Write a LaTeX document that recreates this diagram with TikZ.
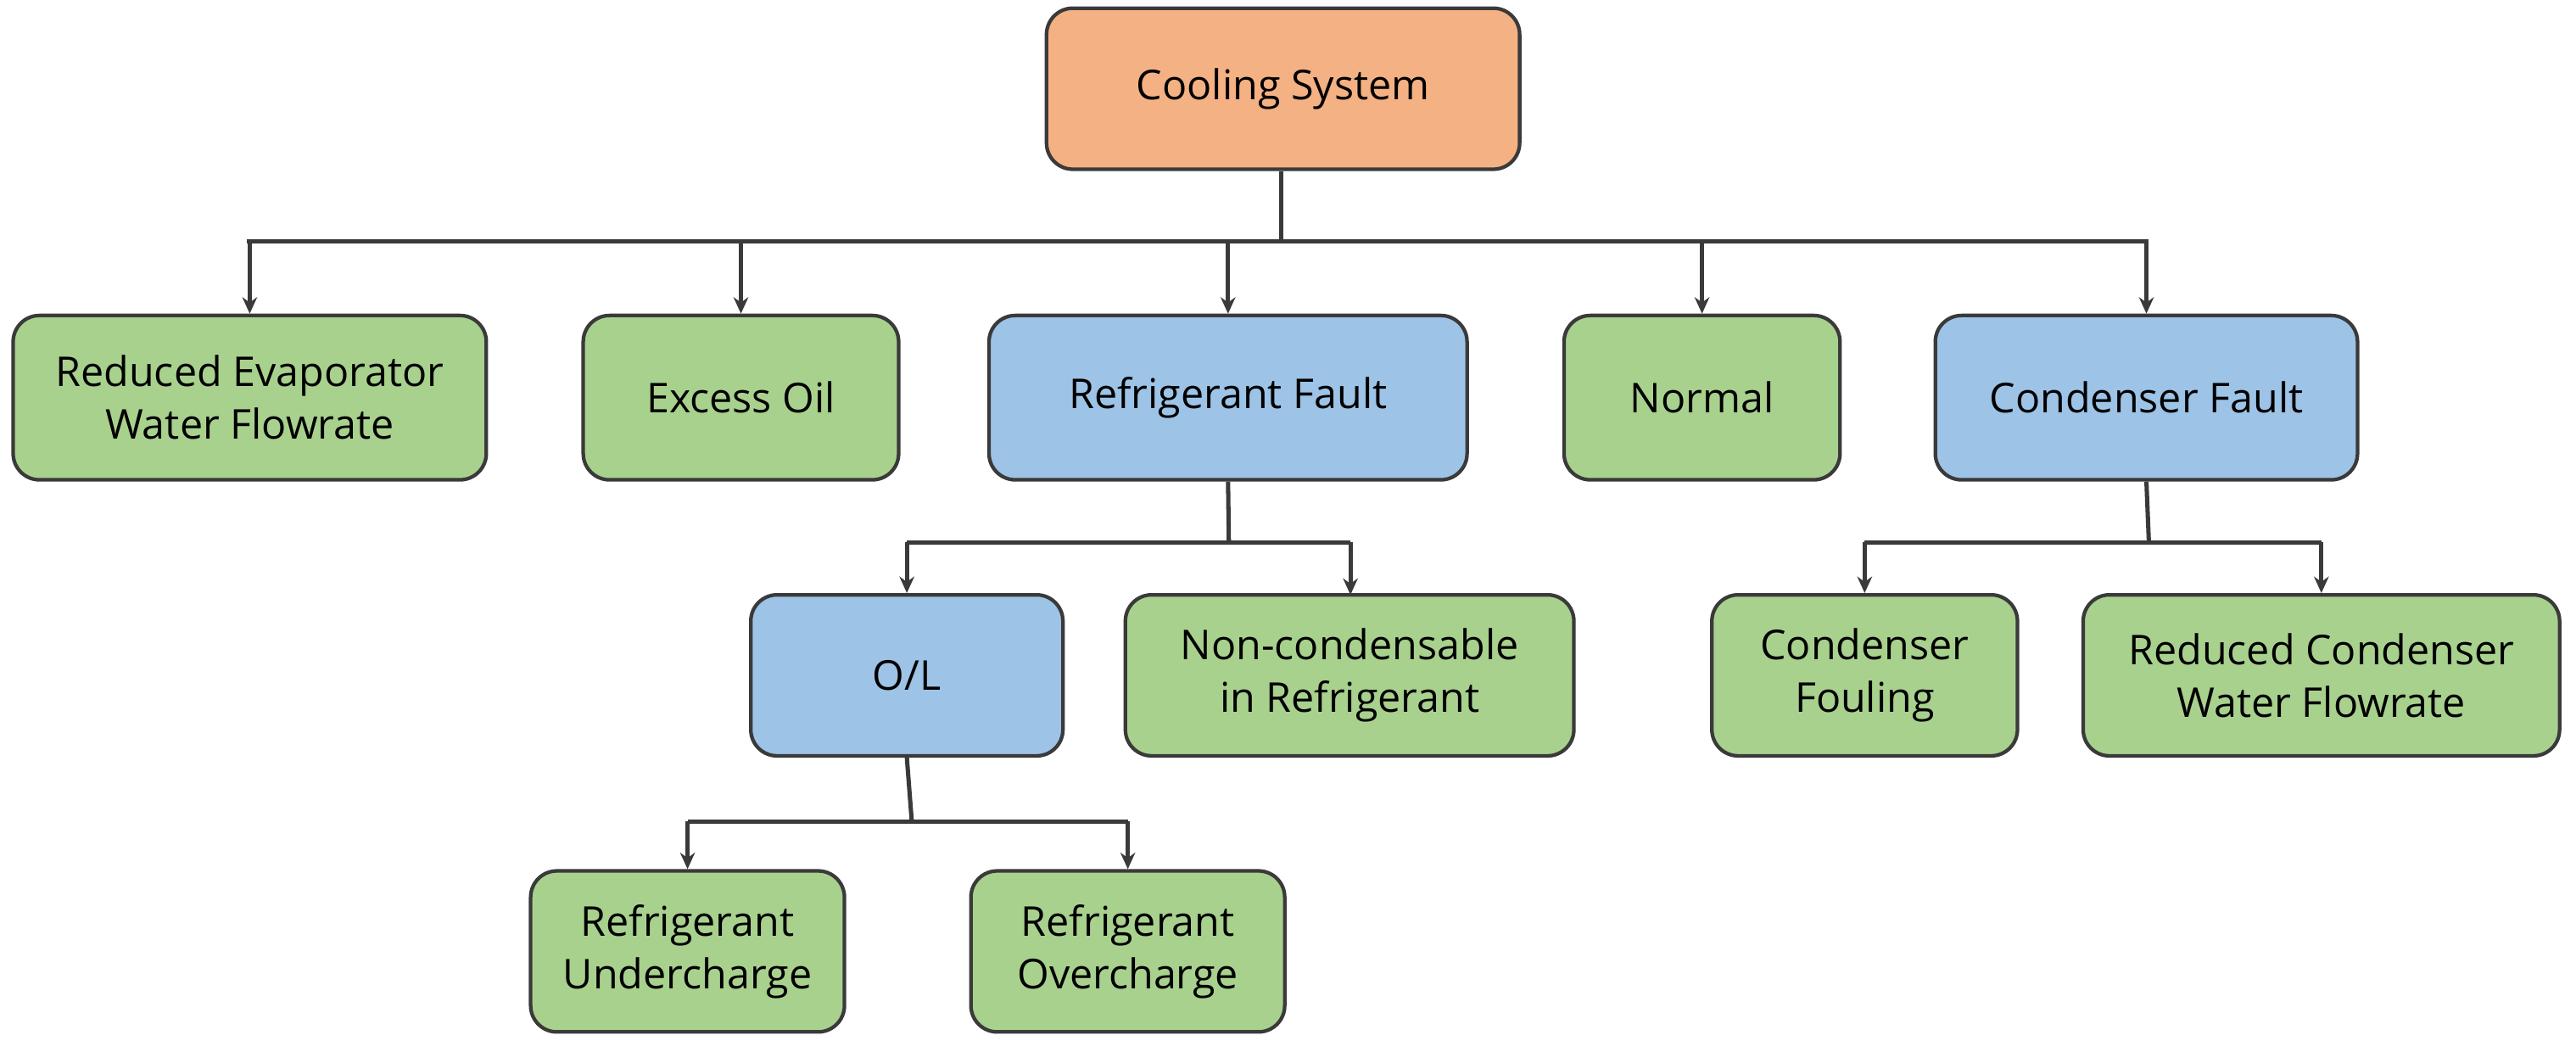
\documentclass[tikz,border=0pt]{standalone}
\usepackage{fontspec}
\setmainfont{Open Sans}
\usetikzlibrary{arrows.meta}
\definecolor{org}{HTML}{F4B183}
\definecolor{blu}{HTML}{9DC3E6}
\definecolor{grn}{HTML}{A9D18E}
\definecolor{ln}{HTML}{3A3A3A}
\begin{document}
\begin{tikzpicture}[x=0.5pt,y=-0.5pt,
  box/.style={draw=ln,line width=1.1pt,rounded corners=8pt,align=center,font=\fontsize{12.5}{16}\selectfont,inner sep=0pt},
  conn/.style={draw=ln,line width=1.3pt},
  arr/.style={conn,-{Stealth[length=5pt,width=4.5pt]}}]
\useasboundingbox (0,0) rectangle (1568,640);
\newcommand{\bx}[7]{\node[box,fill=#6,minimum width={(#3-#2)*0.5pt},minimum height={(#5-#4)*0.5pt}] (#1) at ({(#2+#3)/2},{(#4+#5)/2}) {#7};}
\bx{cs}{637}{925}{5}{103}{org}{Cooling System}
\bx{re}{8}{296}{192}{292}{grn}{Reduced Evaporator\\Water Flowrate}
\bx{eo}{355}{547}{192}{292}{grn}{Excess Oil}
\bx{rf}{602}{893}{192}{292}{blu}{Refrigerant Fault}
\bx{no}{952}{1120}{192}{292}{grn}{Normal}
\bx{cf}{1178}{1435}{192}{292}{blu}{Condenser Fault}
\bx{ol}{457}{647}{362}{460}{blu}{O/L}
\bx{nc}{685}{958}{362}{460}{grn}{Non-condensable\\in Refrigerant}
\bx{fo}{1042}{1228}{362}{460}{grn}{Condenser\\Fouling}
\bx{rc}{1268}{1558}{362}{460}{grn}{Reduced Condenser\\Water Flowrate}
\bx{ru}{323}{514}{530}{628}{grn}{Refrigerant\\Undercharge}
\bx{ro}{591}{782}{530}{628}{grn}{Refrigerant\\Overcharge}
\coordinate (j1) at (780,147);
\coordinate (j2) at (748,330);
\coordinate (j3) at (1308,330);
\coordinate (j4) at (555,500);
\draw[conn] (cs.south -| j1) -- (j1);
\draw[conn] (150,147) -- (1308,147);
\foreach \n in {re,eo,rf,no,cf} \draw[arr] (j1 -| \n) -- (\n.north);
\draw[conn] (rf.south) -- (j2);
\draw[conn] (j2 -| ol) -- (822,330);
\draw[arr] (j2 -| ol) -- (ol.north);
\draw[arr] (822,330) -- (822,362);
\draw[conn] (cf.south) -- (j3);
\draw[conn] (j3 -| fo) -- (j3 -| rc);
\draw[arr] (j3 -| fo) -- (fo.north);
\draw[arr] (j3 -| rc) -- (rc.north);
\draw[conn] (ol.south) -- (j4);
\draw[conn] (j4 -| ru) -- (j4 -| ro);
\draw[arr] (j4 -| ru) -- (ru.north);
\draw[arr] (j4 -| ro) -- (ro.north);
\end{tikzpicture}
\end{document}
